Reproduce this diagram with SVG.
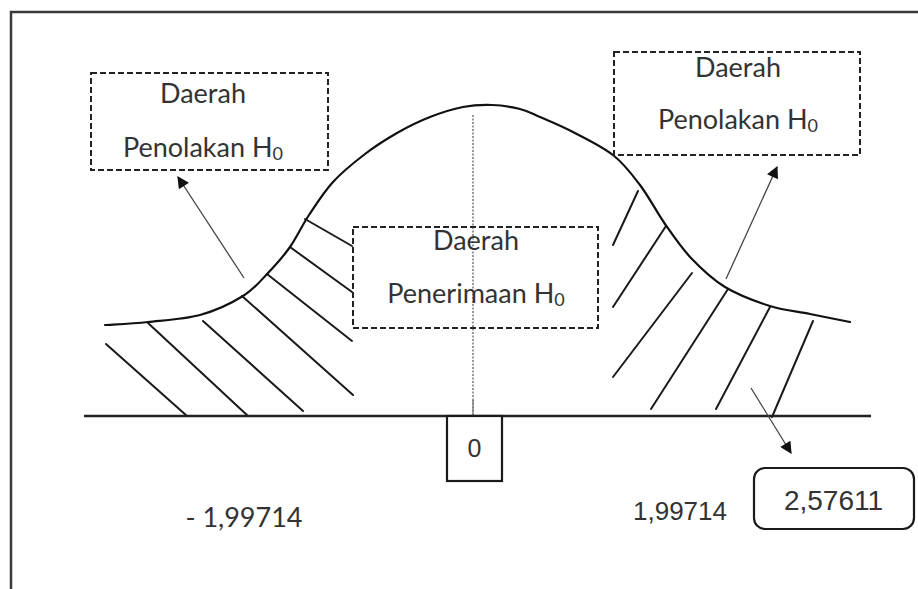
<svg xmlns="http://www.w3.org/2000/svg" width="918" height="589" viewBox="0 0 918 589">
  <style>
    .frame { fill: none; stroke: #3a3a3a; stroke-width: 2.5; }
    .curve { fill: none; stroke: #111; stroke-width: 2.2; stroke-linecap: round; }
    .hatch { stroke: #1a1a1a; stroke-width: 2; stroke-linecap: round; }
    .axis { stroke: #222; stroke-width: 2.5; }
    .dashbox { fill: #fff; stroke: #222; stroke-width: 2; stroke-dasharray: 6 3; }
    .solidbox { fill: #fff; stroke: #1a1a1a; stroke-width: 2.2; }
    .guide { stroke: #333; stroke-width: 1; stroke-dasharray: 2 1.5; }
    .arrow { stroke: #444; stroke-width: 1.3; fill: none; marker-end: url(#head); }
    .lbl { font-family: Lato, "Open Sans", sans-serif; font-size: 27px; fill: #333; text-anchor: middle; }
    .num { font-family: "Liberation Sans", Arial, sans-serif; fill: #333; }
    .sub { font-size: 18px; }
  </style>
  <defs>
    <marker id="head" viewBox="0 0 10 10" refX="9" refY="5" markerWidth="14" markerHeight="12" markerUnits="userSpaceOnUse" orient="auto">
      <path d="M0,0 L10,5 L0,10 Z" fill="#111"/>
    </marker>
  </defs>

  <rect width="918" height="589" fill="#fff"/>

  <!-- outer frame (top and left edges) -->
  <path class="frame" d="M11,589 V12 H918"/>

  <!-- hatching of the two rejection tails -->
  <g id="hatching">
    <line class="hatch" x1="305" y1="219" x2="352" y2="246"/>
    <line class="hatch" x1="290" y1="247" x2="352" y2="292"/>
    <line class="hatch" x1="267" y1="274" x2="352" y2="341"/>
    <line class="hatch" x1="242" y1="296" x2="353" y2="395"/>
    <line class="hatch" x1="203" y1="321" x2="303" y2="411"/>
    <line class="hatch" x1="148" y1="323" x2="248" y2="416"/>
    <line class="hatch" x1="106" y1="344" x2="187" y2="416"/>

    <line class="hatch" x1="638" y1="191" x2="613" y2="245"/>
    <line class="hatch" x1="666" y1="226" x2="613" y2="307"/>
    <line class="hatch" x1="692" y1="273" x2="613" y2="377"/>
    <line class="hatch" x1="728" y1="289" x2="651" y2="409"/>
    <line class="hatch" x1="770" y1="307" x2="716" y2="409"/>
    <line class="hatch" x1="813" y1="321" x2="772" y2="417"/>
  </g>

  <!-- normal curve -->
  <g id="curve">
    <path class="curve" d="M105,325 C112.2,324.5 132.2,323.7 148,322 C163.8,320.3 184.2,319.3 200,315 C215.8,310.7 231.7,303 243,296 C254.3,289 260.2,281.2 268,273 C275.8,264.8 283.2,256.7 290,247 C296.8,237.3 301.8,225.8 309,215 C316.2,204.2 323.7,192.2 333,182 C342.3,171.8 354.3,162.2 365,154 C375.7,145.8 386.2,139.2 397,133 C407.8,126.8 419,121.3 430,117 C441,112.7 452.7,109 463,107 C473.3,105 482.5,104.7 492,105 C501.5,105.3 512,107 520,109 C528,111 531.2,113.2 540,117 C548.8,120.8 560.8,125.7 573,132 C585.2,138.3 601.8,146.2 613,155 C624.2,163.8 631.3,173.5 640,185 C648.7,196.5 656.5,211.8 665,224 C673.5,236.2 681,247.5 691,258 C701,268.5 711.8,279 725,287 C738.2,295 755.8,301.5 770,306 C784.2,310.5 796.7,311.3 810,314 C823.3,316.7 843.3,320.7 850,322"/>
  </g>

  <!-- horizontal axis and centre guide -->
  <line class="axis" x1="84" y1="416" x2="871" y2="416"/>
  <line class="guide" x1="473" y1="115" x2="473" y2="416"/>

  <!-- connectors -->
  <g id="connectors">
    <line class="arrow" x1="244" y1="278" x2="178" y2="177"/>
    <line class="arrow" x1="726" y1="279" x2="777" y2="167"/>
    <line class="arrow" x1="751" y1="388" x2="791" y2="453"/>
  </g>

  <g id="reject-left">
    <rect class="dashbox" x="91" y="73" width="237" height="97"/>
    <text class="lbl" x="203" y="103">Daerah</text>
    <text class="lbl" x="203" y="157">Penolakan H<tspan class="sub" dy="3">0</tspan></text>
  </g>

  <g id="reject-right">
    <rect class="dashbox" x="614" y="52" width="246" height="103"/>
    <text class="lbl" x="738" y="77">Daerah</text>
    <text class="lbl" x="738" y="129">Penolakan H<tspan class="sub" dy="3">0</tspan></text>
  </g>

  <g id="accept">
    <rect class="dashbox" x="353" y="227" width="245" height="101"/>
    <line class="guide" x1="473" y1="227" x2="473" y2="328"/>
    <text class="lbl" x="476" y="250">Daerah</text>
    <text class="lbl" x="476" y="303">Penerimaan H<tspan class="sub" dy="3">0</tspan></text>
  </g>

  <g id="zero">
    <rect class="solidbox" x="447" y="416" width="55" height="65"/>
    <line class="guide" x1="473" y1="400" x2="473" y2="416"/>
    <text class="num" x="474.5" y="457" font-size="25" text-anchor="middle">0</text>
  </g>

  <g id="neg-critical">
    <text class="lbl" x="244" y="527" font-size="27">- 1,99714</text>
  </g>

  <g id="pos-critical">
    <text class="num" x="680" y="520" font-size="26" text-anchor="middle">1,99714</text>
  </g>

  <g id="z-value">
    <rect class="solidbox" x="754" y="468" width="160" height="61" rx="11"/>
    <text class="num" x="833.5" y="510" font-size="28" text-anchor="middle">2,57611</text>
  </g>
</svg>
